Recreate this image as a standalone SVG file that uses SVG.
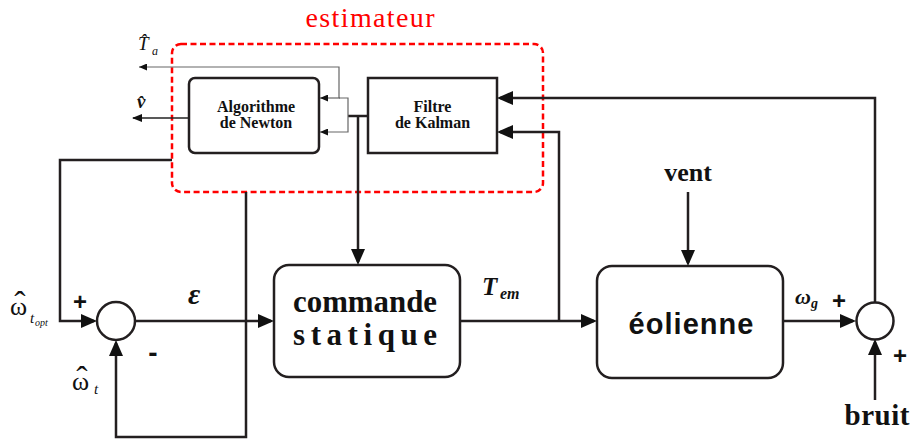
<svg xmlns="http://www.w3.org/2000/svg" width="912" height="443" viewBox="0 0 912 443">
<defs>
<marker id="big" markerUnits="userSpaceOnUse" markerWidth="16" markerHeight="14" refX="13" refY="7" orient="auto">
<path d="M0,0 L16,7 L0,14 z" fill="#111"/>
</marker>
<marker id="small" markerUnits="userSpaceOnUse" markerWidth="8" markerHeight="7" refX="8" refY="3.5" orient="auto">
<path d="M0,0 L8,3.5 L0,7 z" fill="#111"/>
</marker>
<marker id="mid" markerUnits="userSpaceOnUse" markerWidth="10" markerHeight="8" refX="9" refY="4" orient="auto">
<path d="M0,0 L10,4 L0,8 z" fill="#111"/>
</marker>
<style>
.box{fill:#fff;stroke:#231f20;stroke-width:2.5}
.ln{fill:none;stroke:#231f20;stroke-width:2.5}
.thin{fill:none;stroke:#666;stroke-width:1.2}
.sf{font-family:"Liberation Serif","Times New Roman",serif;fill:#111}
.b{font-weight:bold}
.i{font-style:italic}
.ss{font-family:"Liberation Sans",Arial,sans-serif;fill:#111;font-weight:bold}
.mid{text-anchor:middle}
.red{fill:#f00}
</style>
</defs>
<rect width="912" height="443" fill="#fff"/>

<g id="estimateur">
<rect x="172" y="44" width="371" height="148" rx="9" fill="none" stroke="#f00" stroke-width="2.5" stroke-dasharray="6,3.5"/>
<text x="370" y="27" class="sf mid red" font-size="28" textLength="129">estimateur</text>
</g>

<g id="newton">
<rect class="box" x="189" y="78" width="130" height="75" rx="6"/>
<text class="sf b mid" x="256" y="112" font-size="16">Algorithme</text>
<text class="sf b mid" x="256" y="128" font-size="16">de Newton</text>
</g>

<g id="kalman">
<rect class="box" x="368" y="78" width="129" height="75"/>
<text class="sf b mid" x="432.5" y="112" font-size="16">Filtre</text>
<text class="sf b mid" x="432.5" y="128" font-size="16">de Kalman</text>
</g>

<g id="commande">
<rect class="box" x="274" y="265" width="186" height="112" rx="15"/>
<text class="sf b mid" x="365" y="312" font-size="31" textLength="144" lengthAdjust="spacingAndGlyphs">commande</text>
<text class="sf b mid" x="365" y="345" font-size="31" textLength="144">statique</text>
</g>

<g id="eolienne">
<rect class="box" x="597" y="266" width="186" height="112" rx="15"/>
<text class="ss mid" x="691" y="334" font-size="29" textLength="125">éolienne</text>
</g>

<g id="sum1">
<circle class="box" cx="116" cy="321" r="19"/>
</g>

<g id="sum2">
<circle class="box" cx="875" cy="321" r="18.5"/>
</g>

<g id="connectors">
<path class="ln" d="M172,160 H60 V321 H94" marker-end="url(#big)"/>
<path class="ln" d="M246,192 V437 H116 V343" marker-end="url(#big)"/>
<path class="ln" d="M135,321 H271" marker-end="url(#big)"/>
<path class="ln" d="M348,116 H368"/>
<path class="ln" d="M358,116 V262" marker-end="url(#big)"/>
<path class="ln" d="M460,321 H594" marker-end="url(#big)"/>
<path class="ln" d="M559,321 V132 H500" marker-end="url(#big)"/>
<path class="ln" d="M783,321 H853" marker-end="url(#big)"/>
<path class="ln" d="M875,302.5 V98 H500" marker-end="url(#big)"/>
<path class="ln" d="M875,400 V342" marker-end="url(#big)"/>
<path class="ln" d="M688,192 V263" marker-end="url(#big)"/>
<path class="thin" d="M339,98 V67 H139" marker-end="url(#small)"/>
<path class="thin" d="M339,98 H348 V132 H320" marker-end="url(#small)"/>
<path class="thin" d="M340,98 H320" marker-end="url(#small)"/>
<path fill="none" stroke="#222" stroke-width="1.5" d="M189,118 H133" marker-end="url(#mid)"/>
</g>

<g id="labels">
<text class="sf i" x="138" y="50" font-size="19">T̂</text>
<text class="sf i" x="152" y="55" font-size="12">a</text>
<text class="sf b i" x="137" y="108" font-size="19">v̂</text>
<text class="sf" x="10" y="315" font-size="26">ω</text>
<text class="sf mid" x="20" y="315" font-size="34">ˆ</text>
<text class="sf i" x="30" y="323" font-size="15">t</text>
<text class="sf i" x="35" y="326" font-size="10">opt</text>
<text class="sf" x="72" y="390" font-size="26">ω</text>
<text class="sf mid" x="82" y="390" font-size="34">ˆ</text>
<text class="sf i" x="94" y="394" font-size="15">t</text>
<text class="ss mid" x="80" y="310" font-size="24">+</text>
<text class="ss mid" x="153" y="362" font-size="28">-</text>
<text class="sf b i" x="188" y="304" font-size="30">ε</text>
<text class="sf b i" x="482" y="295" font-size="25">T</text>
<text class="sf b i" x="500" y="299" font-size="16">em</text>
<text class="sf b i" x="795" y="304" font-size="22">ω</text>
<text class="sf b i" x="811" y="308" font-size="14">g</text>
<text class="ss mid" x="839" y="309" font-size="24">+</text>
<text class="ss mid" x="900" y="364" font-size="24">+</text>
<text class="sf b mid" x="688" y="181" font-size="26">vent</text>
<text class="sf b mid" x="877" y="425" font-size="29" textLength="65">bruit</text>
</g>
</svg>
